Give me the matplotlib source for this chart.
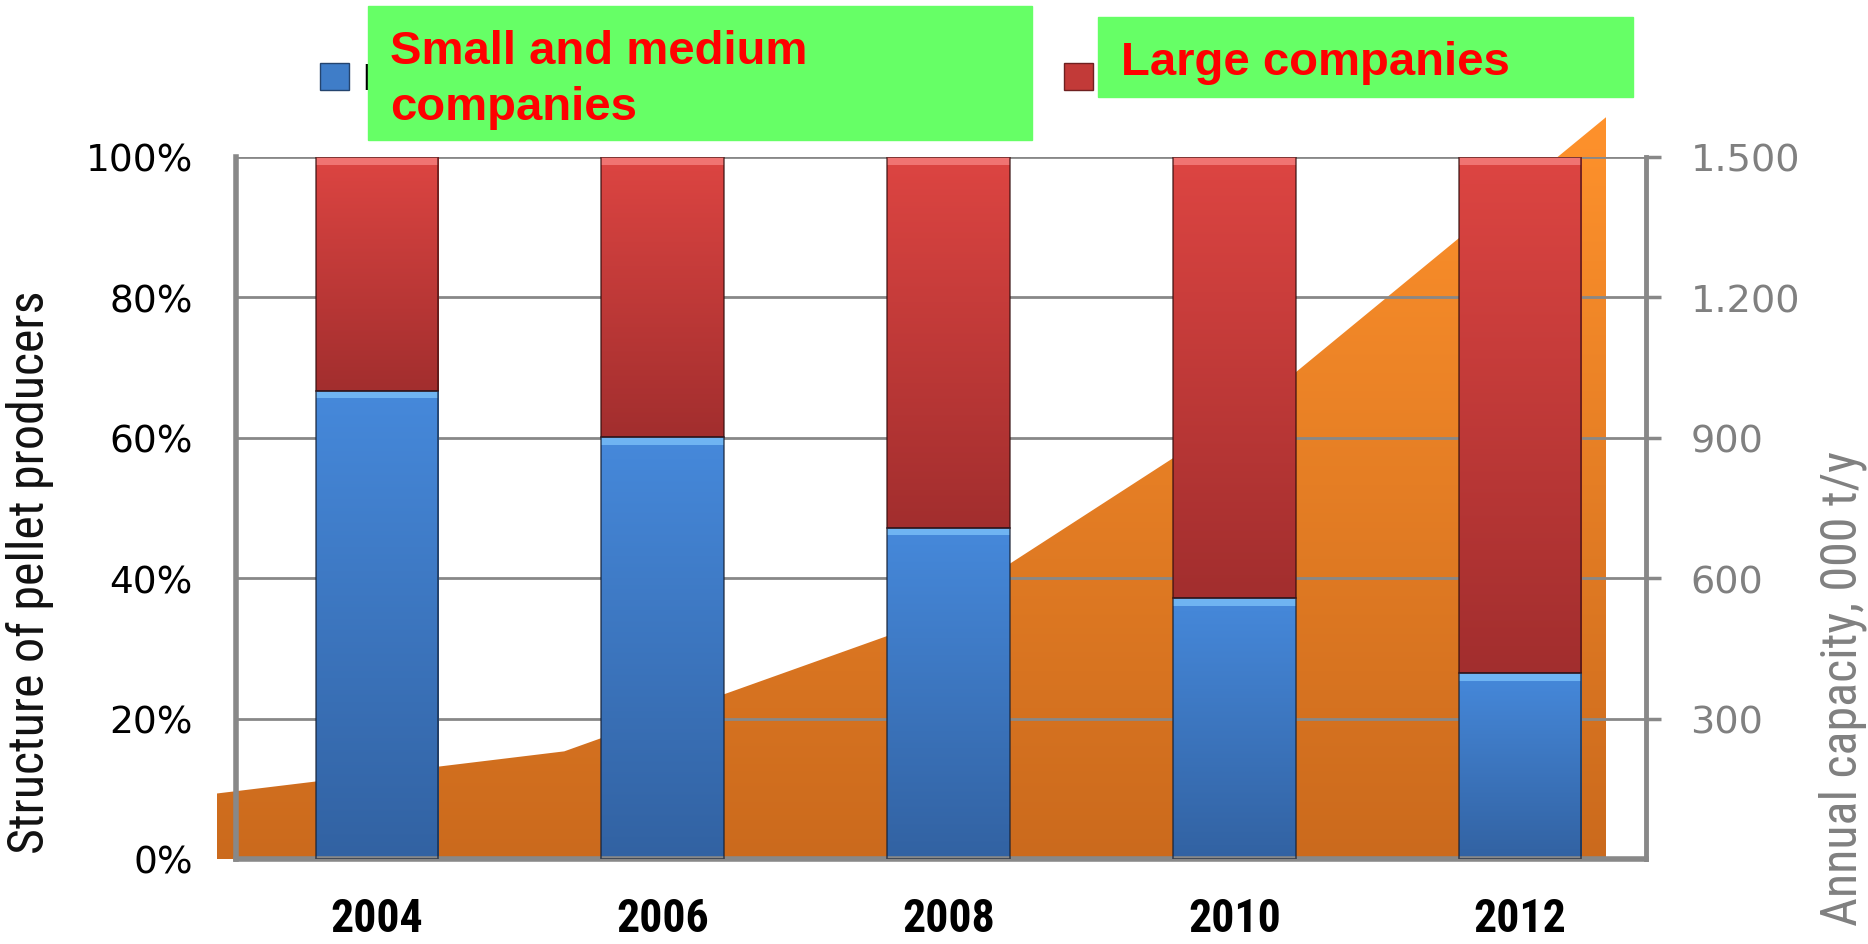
import numpy as np
import matplotlib.pyplot as plt
from matplotlib.colors import LinearSegmentedColormap
from matplotlib.patches import Patch, Rectangle, PathPatch

W, H = 1868, 945

years = ["2004", "2006", "2008", "2010", "2012"]
small_share = [66.7, 60.1, 47.2, 37.2, 26.5]
large_share = [100 - v for v in small_share]
capacity = [140, 230, 495, 975, 1585]   # 000 t/y, secondary axis
cap_ticks = [300, 600, 900, 1200, 1500]
cap_labels = ["300", "600", "900", "1.200", "1.500"]

narrow = ["Liberation Sans Narrow", "Roboto Condensed", "Roboto", "DejaVu Sans"]
grey = "#888888"


def gradient(ax, clip, x0, x1, y0, y1, c_top, c_bot, z=2):
    cmap = LinearSegmentedColormap.from_list("g", [c_bot, c_top])
    im = ax.imshow(np.linspace(0, 1, 256).reshape(-1, 1), cmap=cmap, origin="lower",
                   extent=[x0, x1, y0, y1], aspect="auto", zorder=z,
                   interpolation="bicubic")
    im.set_clip_path(clip)
    return im


fig = plt.figure(figsize=(W / 100, H / 100), dpi=100)

# plot area in pixels
left, right, bottom, top = 236, 1646, 860, 158
ax_rect = [left / W, 1 - bottom / H, (right - left) / W, (bottom - top) / H]

# area series sits on its own axes (it runs wider than the bars' axis)
a_left, a_right = 217, 1606
a_ymax = 1700
a_h = (bottom - top) * a_ymax / 1500
ax_area = fig.add_axes([a_left / W, 1 - bottom / H, (a_right - a_left) / W, a_h / H], zorder=0)
xa = np.arange(len(capacity))
poly = ax_area.fill_between(xa, capacity, 0, color="none", lw=0)
area_patch = PathPatch(poly.get_paths()[0], facecolor="none", lw=0)
ax_area.add_patch(area_patch)
gradient(ax_area, area_patch, 0, 4, 0, 1600, "#FF922C", "#CB6A1D", z=1)
ax_area.set_xlim(0, 4)
ax_area.set_ylim(0, a_ymax)
ax_area.axis("off")

ax = fig.add_axes(ax_rect, zorder=1)
ax.patch.set_visible(False)
x = np.arange(len(years))
w = 0.43

blue_bars = ax.bar(x, small_share, w, facecolor="none",
                   edgecolor=(0.08, 0.12, 0.2, 0.7), lw=1.2, zorder=3)
red_bars = ax.bar(x, large_share, w, bottom=small_share, facecolor="none",
                  edgecolor=(0.2, 0.05, 0.05, 0.7), lw=1.2, zorder=3)
for i, (b, r) in enumerate(zip(blue_bars, red_bars)):
    gradient(ax, b, x[i] - w / 2, x[i] + w / 2, 0, small_share[i], "#4689DB", "#3262A2")
    gradient(ax, r, x[i] - w / 2, x[i] + w / 2, small_share[i], 100, "#DD4542", "#A22E2E")
    # bevel highlight on top of each segment
    ax.add_patch(Rectangle((x[i] - w / 2, small_share[i] - 1.1), w, 1.1,
                           color="#6FB4F2", zorder=2.6, lw=0))
    ax.add_patch(Rectangle((x[i] - w / 2, 100 - 1.1), w, 1.1,
                           color="#F07472", zorder=2.6, lw=0))

spacing = 285.75
c0 = 377
ax.set_xlim((left - c0) / spacing, (right - c0) / spacing)
ax.set_ylim(0, 100)
ax.set_yticks(range(0, 101, 20))
ax.set_yticklabels([f"{v}%" for v in range(0, 101, 20)], fontsize=27,
                   family="DejaVu Sans")
ax.set_xticks(x)
ax.set_xticklabels(years, fontsize=33, fontweight="bold", family=narrow)
ax.tick_params(axis="y", length=0, pad=31)
ax.tick_params(axis="x", length=0, pad=27)
ax.yaxis.grid(True, color=grey, lw=2)
ax.set_axisbelow(True)
for s in ["top", "right"]:
    ax.spines[s].set_visible(False)
for s in ["left", "bottom"]:
    ax.spines[s].set_color(grey)
    ax.spines[s].set_linewidth(4)

ax2 = ax.twinx()
ax2.set_ylim(0, 1500)
ax2.set_yticks(cap_ticks)
ax2.set_yticklabels(cap_labels, fontsize=27.5, color="#808080", family="DejaVu Sans")
ax2.tick_params(axis="y", direction="out", length=11, width=2.5, color=grey, pad=21)
for s in ["top", "left", "bottom"]:
    ax2.spines[s].set_visible(False)
ax2.spines["right"].set_color(grey)
ax2.spines["right"].set_linewidth(3.5)

fig.text(30 / W, 1 - 572 / H, "Structure of pellet producers", rotation=90,
         ha="center", va="center", fontsize=36, family=narrow, color="#111111")
fig.text(1843 / W, 1 - 688 / H, "Annual capacity, 000 t/y", rotation=90,
         ha="center", va="center", fontsize=36, family=narrow, color="#808080")

# legend (mostly covered by the green labels)
leg_kw = dict(loc="center left", frameon=False, borderpad=0, borderaxespad=0,
              handlelength=0.8, handleheight=0.8, handletextpad=0.4,
              prop={"family": narrow, "size": 26})
fig.legend(handles=[Patch(facecolor="#3F7DC8", edgecolor="#24446E")],
           labels=["Micro and small producers"], bbox_to_anchor=(320 / W, 1 - 80 / H), **leg_kw)
fig.legend(handles=[Patch(facecolor="#C23A38", edgecolor="#6E2020")],
           labels=["Large pellet producers"], bbox_to_anchor=(1064 / W, 1 - 80 / H), **leg_kw)

# green label boxes
fig.add_artist(Rectangle((368 / W, 1 - 141 / H), 664 / W, 134 / H, transform=fig.transFigure,
                         color="#66FF66", zorder=10))
fig.add_artist(Rectangle((1098 / W, 1 - 98 / H), 535 / W, 80 / H, transform=fig.transFigure,
                         color="#66FF66", zorder=10))
fig.text(390 / W, 1 - 30 / H, "Small and medium\ncompanies", ha="left", va="top",
         fontsize=34, fontweight="bold", color="#FF0000", family="Liberation Sans",
         linespacing=1.35, zorder=11)
fig.text(1121 / W, 1 - 75 / H, "Large companies", ha="left", va="baseline",
         fontsize=34, fontweight="bold", color="#FF0000", family="Liberation Sans",
         zorder=11)

fig.savefig("out.png", dpi=100)
